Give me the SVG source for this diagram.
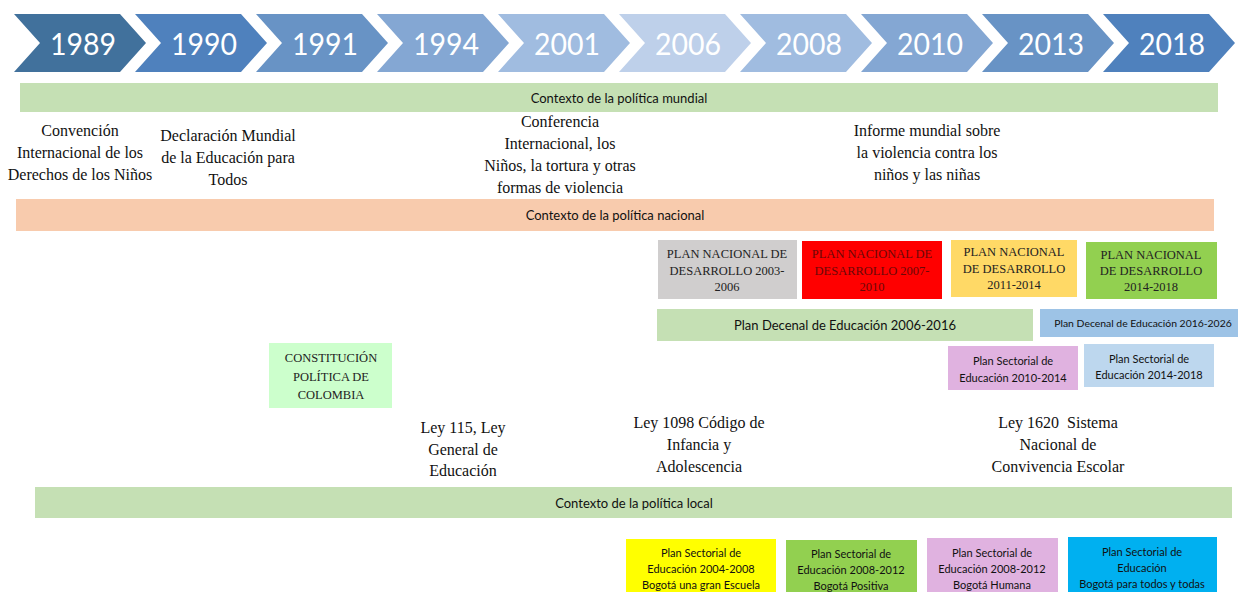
<svg xmlns="http://www.w3.org/2000/svg" xmlns:xlink="http://www.w3.org/1999/xlink" width="1238" height="592" viewBox="0 0 1238 592">
<style>
.yr{font-family:Lato,"Liberation Sans",sans-serif;font-size:31px;fill:#fff;text-anchor:middle;dominant-baseline:central}
.bar{font-family:Lato,"Liberation Sans",sans-serif;font-size:13px;fill:#111;text-anchor:middle;dominant-baseline:central}
.sm{font-family:Lato,"Liberation Sans",sans-serif;font-size:11px;fill:#111;text-anchor:middle;dominant-baseline:central}
.tm{font-family:"Liberation Serif","Times New Roman",serif;font-size:16px;fill:#111;text-anchor:middle;dominant-baseline:central}
.tb{font-family:"Liberation Serif","Times New Roman",serif;font-size:12.5px;fill:#222;text-anchor:middle;dominant-baseline:central}
.dr{fill:#6a0808}
</style>
<defs>
<polygon id="chev" points="0,14 106,14 132,43 106,72 0,72 26,43"/>
</defs>
<rect width="1238" height="592" fill="#fff"/>
<g id="timeline">
<g id="y1989"><use xlink:href="#chev" x="14" fill="#41719c"/><text class="yr" x="83" y="43" textLength="66" lengthAdjust="spacingAndGlyphs">1989</text></g>
<g id="y1990"><use xlink:href="#chev" x="135" fill="#4f81bd"/><text class="yr" x="204" y="43" textLength="66" lengthAdjust="spacingAndGlyphs">1990</text></g>
<g id="y1991"><use xlink:href="#chev" x="256" fill="#6893c5"/><text class="yr" x="325" y="43" textLength="66" lengthAdjust="spacingAndGlyphs">1991</text></g>
<g id="y1994"><use xlink:href="#chev" x="377" fill="#84a7d3"/><text class="yr" x="446" y="43" textLength="66" lengthAdjust="spacingAndGlyphs">1994</text></g>
<g id="y2001"><use xlink:href="#chev" x="498" fill="#a0bce0"/><text class="yr" x="567" y="43" textLength="66" lengthAdjust="spacingAndGlyphs">2001</text></g>
<g id="y2006"><use xlink:href="#chev" x="619" fill="#bed0ea"/><text class="yr" x="688" y="43" textLength="66" lengthAdjust="spacingAndGlyphs">2006</text></g>
<g id="y2008"><use xlink:href="#chev" x="740" fill="#a0bce0"/><text class="yr" x="809" y="43" textLength="66" lengthAdjust="spacingAndGlyphs">2008</text></g>
<g id="y2010"><use xlink:href="#chev" x="861" fill="#84a7d3"/><text class="yr" x="930" y="43" textLength="66" lengthAdjust="spacingAndGlyphs">2010</text></g>
<g id="y2013"><use xlink:href="#chev" x="982" fill="#6893c5"/><text class="yr" x="1051" y="43" textLength="66" lengthAdjust="spacingAndGlyphs">2013</text></g>
<g id="y2018"><use xlink:href="#chev" x="1103" fill="#4f81bd"/><text class="yr" x="1172" y="43" textLength="66" lengthAdjust="spacingAndGlyphs">2018</text></g>
</g>
<g id="connectors"></g>
<g id="ctx-mundial"><rect x="20" y="83" width="1198" height="29" fill="#c5e0b4"/><text class="bar" x="619" y="98">Contexto de la política mundial</text></g>
<g id="convencion"><text class="tm" x="80" y="130">Convención</text><text class="tm" x="80" y="152">Internacional de los</text><text class="tm" x="80" y="174">Derechos de los Niños</text></g>
<g id="declaracion"><text class="tm" x="228" y="135">Declaración Mundial</text><text class="tm" x="228" y="157">de la Educación para</text><text class="tm" x="228" y="179">Todos</text></g>
<g id="conferencia"><text class="tm" x="560" y="121">Conferencia</text><text class="tm" x="560" y="143">Internacional, los</text><text class="tm" x="560" y="165">Niños, la tortura y otras</text><text class="tm" x="560" y="187">formas de violencia</text></g>
<g id="informe"><text class="tm" x="927" y="130">Informe mundial sobre</text><text class="tm" x="927" y="152">la violencia contra los</text><text class="tm" x="927" y="174">niños y las niñas</text></g>
<g id="ctx-nacional"><rect x="16" y="199" width="1198" height="32" fill="#f8cbad"/><text class="bar" x="615" y="215">Contexto de la política nacional</text></g>
<g id="pnd2003"><rect x="658" y="240" width="139" height="59" fill="#d0cece"/><text class="tb" x="727" y="254">PLAN NACIONAL DE</text><text class="tb" x="727" y="271">DESARROLLO 2003-</text><text class="tb" x="727" y="287">2006</text></g>
<g id="pnd2007"><rect x="802" y="241" width="140" height="58" fill="#ff0000"/><text class="tb dr" x="872" y="254">PLAN NACIONAL DE</text><text class="tb dr" x="872" y="271">DESARROLLO 2007-</text><text class="tb dr" x="872" y="287">2010</text></g>
<g id="pnd2011"><rect x="951" y="240" width="126" height="57" fill="#ffd966"/><text class="tb" x="1014" y="252">PLAN NACIONAL</text><text class="tb" x="1014" y="269">DE DESARROLLO</text><text class="tb" x="1014" y="285">2011-2014</text></g>
<g id="pnd2014"><rect x="1086" y="242" width="131" height="57" fill="#92d050"/><text class="tb" x="1151" y="255">PLAN NACIONAL</text><text class="tb" x="1151" y="271">DE DESARROLLO</text><text class="tb" x="1151" y="287">2014-2018</text></g>
<g id="pde2006"><rect x="657" y="309" width="376" height="32" fill="#c5e0b4"/><text class="bar" x="845" y="325">Plan Decenal de Educación 2006-2016</text></g>
<g id="pde2016"><rect x="1040" y="309" width="198" height="28" fill="#9dc3e6"/><text class="sm" x="1143" y="323" style="font-size:10.4px">Plan Decenal de Educación 2016-2026</text></g>
<g id="pse2010"><rect x="948" y="346" width="130" height="44" fill="#e0b2e0"/><text class="sm" x="1013" y="360">Plan Sectorial de</text><text class="sm" x="1013" y="377">Educación 2010-2014</text></g>
<g id="pse2014"><rect x="1084" y="344" width="130" height="43" fill="#bdd7ee"/><text class="sm" x="1149" y="358">Plan Sectorial de</text><text class="sm" x="1149" y="374">Educación 2014-2018</text></g>
<g id="constitucion"><rect x="269" y="343" width="123" height="65" fill="#ccffcc"/><text class="tb" x="331" y="358">CONSTITUCIÓN</text><text class="tb" x="331" y="377">POLÍTICA DE</text><text class="tb" x="331" y="395">COLOMBIA</text></g>
<g id="ley115"><text class="tm" x="463" y="427">Ley 115, Ley</text><text class="tm" x="463" y="449">General de</text><text class="tm" x="463" y="470">Educación</text></g>
<g id="ley1098"><text class="tm" x="699" y="422">Ley 1098 Código de</text><text class="tm" x="699" y="444">Infancia y</text><text class="tm" x="699" y="466">Adolescencia</text></g>
<g id="ley1620"><text class="tm" x="1058" y="422" xml:space="preserve">Ley 1620  Sistema</text><text class="tm" x="1058" y="444">Nacional de</text><text class="tm" x="1058" y="466">Convivencia Escolar</text></g>
<g id="ctx-local"><rect x="35" y="487" width="1197" height="31" fill="#c5e0b4"/><text class="bar" x="634" y="503">Contexto de la política local</text></g>
<g id="pse2004"><rect x="626" y="539" width="150" height="53" fill="#ffff00"/><text class="sm" x="701" y="552">Plan Sectorial de</text><text class="sm" x="701" y="568">Educación 2004-2008</text><text class="sm" x="701" y="584">Bogotá una gran Escuela</text></g>
<g id="pse2008a"><rect x="786" y="540" width="131" height="52" fill="#92d050"/><text class="sm" x="851" y="553">Plan Sectorial de</text><text class="sm" x="851" y="569">Educación 2008-2012</text><text class="sm" x="851" y="585">Bogotá Positiva</text></g>
<g id="pse2008b"><rect x="927" y="538" width="131" height="54" fill="#e0b2e0"/><text class="sm" x="992" y="552">Plan Sectorial de</text><text class="sm" x="992" y="568">Educación 2008-2012</text><text class="sm" x="992" y="584">Bogotá Humana</text></g>
<g id="pse2016"><rect x="1068" y="537" width="149" height="55" fill="#00b0f0"/><text class="sm" x="1142" y="551">Plan Sectorial de</text><text class="sm" x="1142" y="567">Educación</text><text class="sm" x="1142" y="583">Bogotá para todos y todas</text></g>
</svg>
